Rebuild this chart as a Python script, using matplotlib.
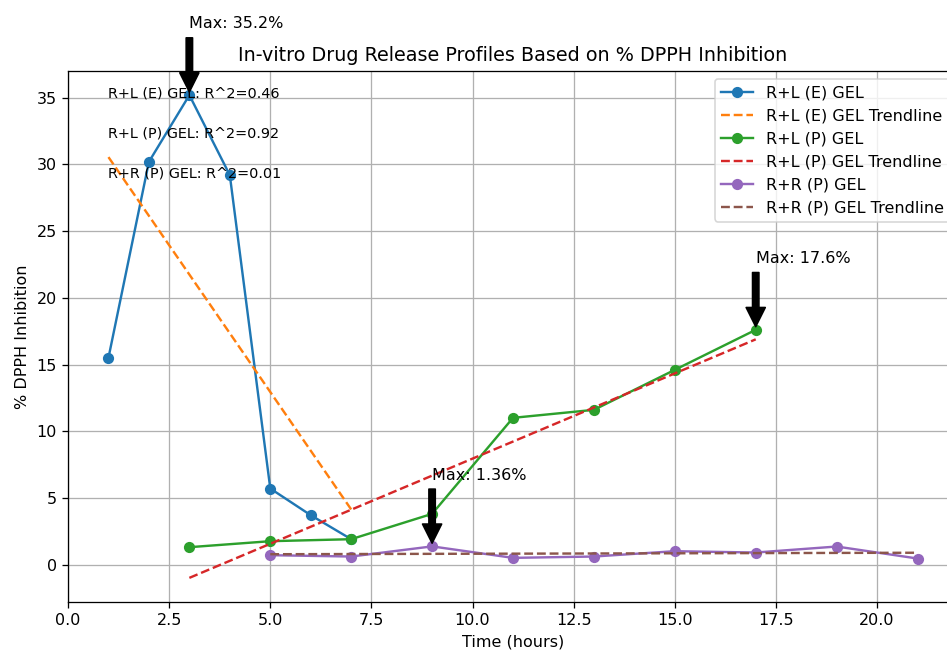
import numpy as np
import matplotlib.pyplot as plt

# Time points (hours) and % DPPH inhibition
time_e = [1, 2, 3, 4, 5, 6, 7]
inhib_e = [15.5, 30.2, 35.2, 29.2, 5.7, 3.7, 1.9]

time_p = [3, 5, 7, 9, 11, 13, 15, 17]
inhib_p = [1.3, 1.75, 1.9, 3.8, 11.0, 11.6, 14.6, 17.6]

time_r = [5, 7, 9, 11, 13, 15, 17, 19, 21]
inhib_r = [0.7, 0.6, 1.36, 0.5, 0.6, 1.0, 0.9, 1.35, 0.45]

labels = ['R+L (E) GEL', 'R+L (P) GEL', 'R+R (P) GEL']
r2_values = [0.46, 0.92, 0.01]
max_labels = ['35.2', '17.6', '1.36']

dpi = 115
fig = plt.figure(figsize=(947/dpi, 651/dpi), dpi=dpi)
ax = fig.add_axes([68/947, 49/651, 890/947, 531/651])

series = [(time_e, inhib_e), (time_p, inhib_p), (time_r, inhib_r)]
for (t, y), lab, mlab in zip(series, labels, max_labels):
    t = np.array(t)
    y = np.array(y)
    ax.plot(t, y, marker='o', label=lab)
    coef = np.polyfit(t, y, 1)
    ax.plot(t, np.polyval(coef, t), '--', label=lab + ' Trendline')
    i = np.argmax(y)
    ax.annotate('Max: ' + mlab + '%', xy=(t[i], y[i]), xytext=(t[i], y[i] + 5),
                arrowprops=dict(facecolor='black', shrink=0.05))

for k, (lab, r2) in enumerate(zip(labels, r2_values)):
    ax.text(1, 35 - 3*k, f'{lab}: R^2={r2:.2f}', fontsize=9)

ax.set_title('In-vitro Drug Release Profiles Based on % DPPH Inhibition')
ax.set_xlabel('Time (hours)')
ax.set_ylabel('% DPPH Inhibition')
ax.legend(loc='upper right')
ax.grid(True)

fig.savefig('out.png', dpi=dpi)
